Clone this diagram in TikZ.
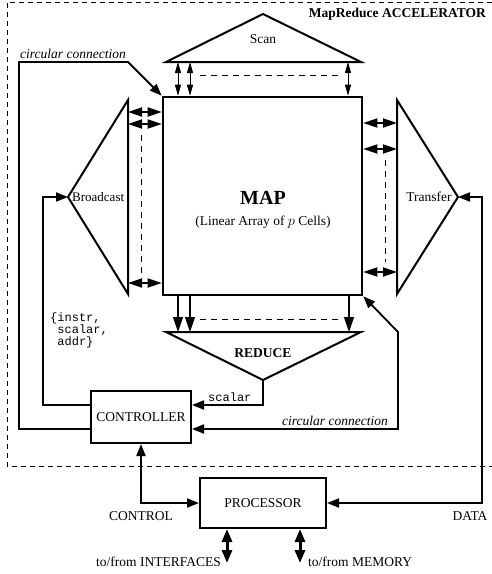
\documentclass[tikz,border=0pt]{standalone}
\usepackage{fontspec}
\setmainfont{Liberation Serif}
\setmonofont{Liberation Mono}
\usetikzlibrary{arrows.meta}
\begin{document}
\begin{tikzpicture}[x=1pt,y=-1pt,
  txt/.style={inner sep=0pt,font=\fontsize{13.5}{16}\selectfont},
  itx/.style={inner sep=0pt,font=\fontsize{13.5}{16}\selectfont\itshape},
  bfx/.style={inner sep=0pt,font=\fontsize{13.5}{16}\selectfont\bfseries},
  ttx/.style={inner sep=0pt,font=\ttfamily\fontsize{12}{11.7}\selectfont},
  tri/.style={draw,line width=2pt},
  blk/.style={draw,line width=2pt,inner sep=0pt,align=center,font=\fontsize{13.5}{16}\selectfont},
  conn/.style={line width=1.8pt,>={Triangle[length=12pt,width=9pt]}},
  scanar/.style={line width=0.9pt,<->,>={Triangle[length=11pt,width=6pt]}},
  sidear/.style={line width=1.8pt,<->,>={Triangle[length=14pt,width=9pt]}},
  redar/.style={line width=1.3pt,->,>={Triangle[length=15pt,width=10pt]}},
  ioar/.style={line width=3pt,<->,>={Triangle[length=13pt,width=10pt]}},
  dsh/.style={line width=0.8pt,dash pattern=on 6pt off 5pt}
]
\useasboundingbox (0,0) rectangle (491,574);
% accelerator frame
\draw[line width=0.9pt,dash pattern=on 5pt off 4pt] (492,2) -- (7,2) -- (7,466) -- (492,466);
\node[bfx,anchor=east] (acc) at (486,14) {MapReduce ACCELERATOR};

% MAP
\node[blk,line width=2.6pt,minimum width=199pt,minimum height=198pt] (map) at (262.5,196) {};
\node[inner sep=0pt,font=\fontsize{20}{24}\selectfont\bfseries] (maptxt) at (263,198) {MAP};
\node[txt,anchor=base] (mapsub) at (263,225.5) {(Linear Array of $p$ Cells)};

% Scan
\coordinate (sL) at (166,62); \coordinate (sA) at (263,14); \coordinate (sR) at (361,62);
\draw[tri] (sL) -- (sA) -- (sR) -- cycle;
\node[txt] (scan) at (263,39) {Scan};
\foreach \x in {178,190,348} \draw[scanar] (\x,0 |- sL) -- (\x,0 |- map.north);
\draw[dsh] (200,75) -- (340,75);

% Broadcast
\coordinate (bT) at (128,100); \coordinate (bA) at (68,197); \coordinate (bB) at (128,294);
\draw[tri] (bT) -- (bA) -- (bB) -- cycle;
\node[txt,anchor=west,font=\fontsize{13}{16}\selectfont] (bc) at (72,197) {Broadcast};
\foreach \y in {112,124,283} \draw[sidear] (bT |- 0,\y) -- (map.west |- 0,\y);
\draw[dsh] (141,135) -- (141,277);

% Transfer
\coordinate (tT) at (397,100); \coordinate (tA) at (458,197); \coordinate (tB) at (397,294);
\draw[tri] (tT) -- (tA) -- (tB) -- cycle;
\node[txt] (tr) at (429,197) {Transfer};
\foreach \y in {123,149,272} \draw[sidear] (map.east |- 0,\y) -- (tT |- 0,\y);
\draw[dsh] (385,160) -- (385,262);

% Reduce
\coordinate (rL) at (166,332); \coordinate (rA) at (263,380); \coordinate (rR) at (361,332);
\draw[tri] (rL) -- (rA) -- (rR) -- cycle;
\node[bfx] (red) at (263,353) {REDUCE};
\foreach \x in {178,190,349} \draw[redar] (\x,0 |- map.south) -- (\x,0 |- rL);
\draw[dsh] (200,319) -- (340,319);

% Controller & Processor
\node[blk,minimum width=100pt,minimum height=52pt] (ctrl) at (141,417) {CONTROLLER};
\node[blk,minimum width=126pt,minimum height=50pt] (proc) at (263,503) {PROCESSOR};

% connectors
\draw[conn,->] ([yshift=-12pt]ctrl.west) -| (19,62) -- (128,62) -- (map.north west);
\node[itx,anchor=west] (cc1) at (20,54) {circular connection};
\draw[conn,->] ([yshift=12pt]ctrl.west) -| (43,197) -- (bA);
\node[ttx,anchor=north west,align=left] (ins) at (50,313) {\{instr,\\\hphantom{\{}scalar,\\\hphantom{\{}addr\}};
\draw[conn,->] (rA) |- ([yshift=12pt]ctrl.east);
\node[ttx,anchor=west] (sc) at (208,397) {scalar};
\draw[conn,<->] ([yshift=-12pt]ctrl.east) -| (398,332) -- (map.south east);
\node[itx,anchor=east] (cc2) at (388,421) {circular connection};

\draw[conn,<->] (ctrl.south) |- (proc.west);
\node[txt] (ctl) at (141,516) {CONTROL};
\draw[conn,<->] (proc.east) -| (482,197) -- (tA);
\node[txt] (dat) at (470,516) {DATA};

% I/O
\coordinate (ifc) at (227,563); \coordinate (mem) at (300,563);
\draw[ioar] (proc.south -| ifc) -- (ifc);
\draw[ioar] (proc.south -| mem) -- (mem);
\node[txt,anchor=east] (ifct) at (221,562) {to/from INTERFACES};
\node[txt,anchor=west] (memt) at (308,562) {to/from MEMORY};
\end{tikzpicture}
\end{document}
